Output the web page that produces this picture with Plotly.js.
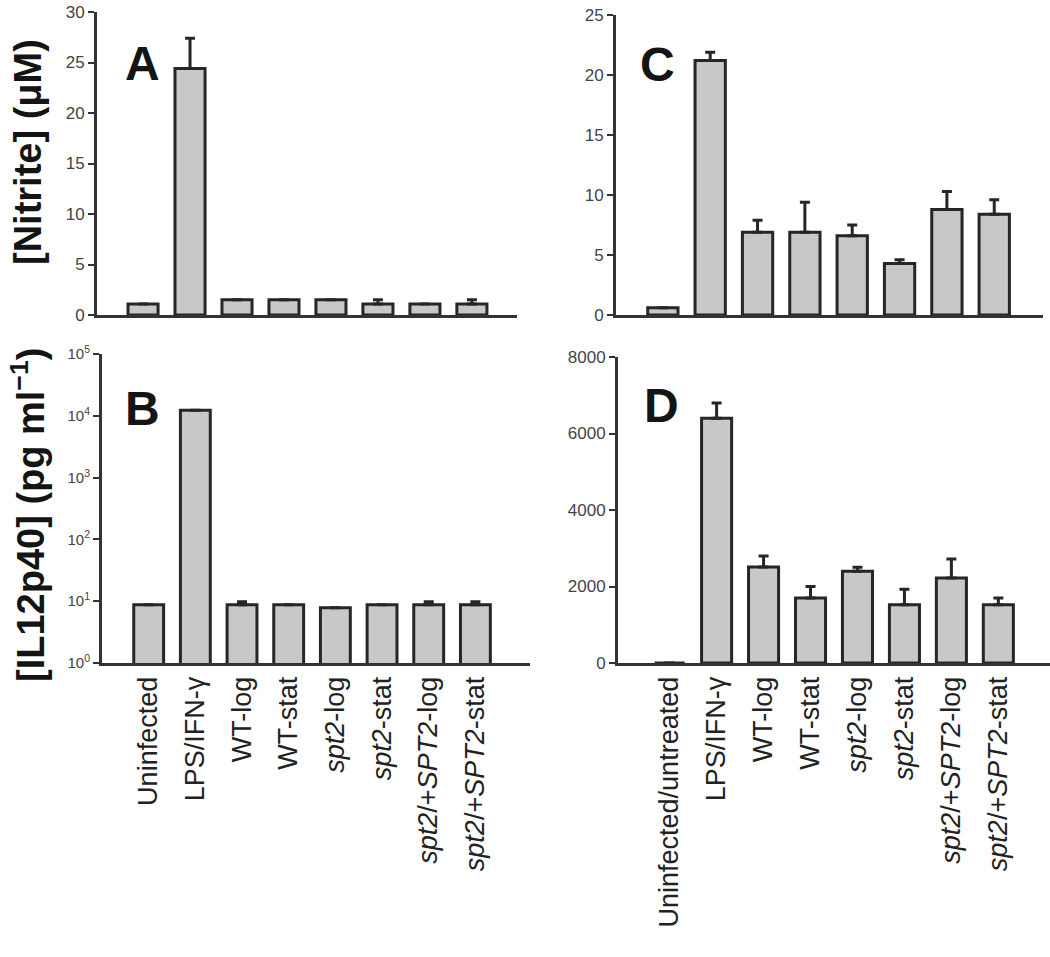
<!DOCTYPE html>
<html>
<head>
<meta charset="utf-8">
<script src="https://cdn.plot.ly/plotly-3.0.1.min.js"></script>
<style>html,body{margin:0;padding:0;background:#fff;}#chart{width:1050px;height:957px;}</style>
</head>
<body>
<div id="chart"></div>
<script>
// ---- Data ----
const categoriesAB = ["Uninfected", "LPS/IFN-γ", "WT-log", "WT-stat", "<i>spt2</i>-log", "<i>spt2</i>-stat", "<i>spt2</i>/+<i>SPT2</i>-log", "<i>spt2</i>/+<i>SPT2</i>-stat"];
const categoriesCD = ["Uninfected/untreated", "LPS/IFN-γ", "WT-log", "WT-stat", "<i>spt2</i>-log", "<i>spt2</i>-stat", "<i>spt2</i>/+<i>SPT2</i>-log", "<i>spt2</i>/+<i>SPT2</i>-stat"];

// Panel A: nitrite (µM)
const nitriteA = [1.1, 24.4, 1.5, 1.5, 1.5, 1.1, 1.1, 1.1];
const nitriteAErr = [0, 3.0, 0, 0, 0, 0.4, 0, 0.4];
// Panel B: IL12p40 (pg/ml), log scale
const il12B = [8.8, 12300, 8.8, 8.8, 7.8, 8.8, 8.8, 8.8];
const il12BErr = [0, 0, 1.0, 0, 0, 0, 1.0, 1.0];
// Panel C: nitrite (µM)
const nitriteC = [0.6, 21.2, 6.9, 6.9, 6.6, 4.3, 8.8, 8.4];
const nitriteCErr = [0, 0.7, 1.0, 2.5, 0.9, 0.3, 1.5, 1.2];
// Panel D: IL12p40 (pg/ml)
const il12D = [0, 6400, 2510, 1700, 2400, 1520, 2220, 1520];
const il12DErr = [0, 400, 290, 300, 100, 410, 500, 180];

const yTicksA = [0, 5, 10, 15, 20, 25, 30];
const yTicksC = [0, 5, 10, 15, 20, 25];
const yTicksD = [0, 2000, 4000, 6000, 8000];
const yTicksB = [1, 10, 100, 1000, 10000, 100000];
const yTickTextB = ["10<sup>0</sup>", "10<sup>1</sup>", "10<sup>2</sup>", "10<sup>3</sup>", "10<sup>4</sup>", "10<sup>5</sup>"];

// ---- Styling ----
const barFill = "#c8c8c8";
const barLine = "#262626";
const axisCol = "#333333";
const FONT = "Liberation Sans, Arial, sans-serif";

function barTrace(cats, vals, errs, xa, ya) {
  return {
    type: "bar", x: cats, y: vals, xaxis: xa, yaxis: ya,
    width: 0.64,
    marker: {color: barFill, line: {color: barLine, width: 3}},
    error_y: {type: "data", symmetric: false, array: errs, arrayminus: errs.map(() => 0),
              color: barLine, thickness: 3, width: 5},
    showlegend: false, hoverinfo: "x+y"
  };
}

const data = [
  barTrace(categoriesAB, nitriteA, nitriteAErr, "x", "y"),
  barTrace(categoriesAB, il12B, il12BErr, "x2", "y2"),
  barTrace(categoriesCD, nitriteC, nitriteCErr, "x3", "y3"),
  barTrace(categoriesCD, il12D, il12DErr, "x4", "y4")
];

function xAxis(domain, range, showLabels, anchor) {
  return {
    domain: domain, range: range, anchor: anchor, type: "category",
    showline: true, linecolor: axisCol, linewidth: 3,
    ticks: "", showgrid: false, zeroline: false,
    showticklabels: showLabels, tickangle: -90,
    tickfont: {family: FONT, size: 27, color: "#222"}
  };
}
function yAxis(domain, range, tickvals, anchor, extra) {
  return Object.assign({
    domain: domain, range: range, anchor: anchor,
    showline: true, linecolor: axisCol, linewidth: 3,
    ticks: "outside", ticklen: 6, tickwidth: 2, tickcolor: axisCol,
    tickvals: tickvals, showgrid: false, zeroline: false,
    tickfont: {family: FONT, size: 17, color: "#444"}
  }, extra || {});
}

const W = 1050, H = 957;
function label(txt, px, py, size, angle) {
  return {text: txt, x: px / W, y: 1 - py / H, xref: "paper", yref: "paper",
          xanchor: "center", yanchor: "middle", showarrow: false, textangle: angle || 0,
          font: {family: FONT, size: size, color: "#141414"}};
}

const layout = {
  width: W, height: H,
  margin: {l: 0, r: 0, t: 0, b: 0},
  paper_bgcolor: "#fff", plot_bgcolor: "rgba(0,0,0,0)",
  font: {family: FONT},
  xaxis:  xAxis([97 / W, 517 / W], [-0.98, 7.96], false, "y"),
  yaxis:  yAxis([1 - 315 / H, 1 - 12 / H], [0, 30], yTicksA, "x"),
  xaxis2: xAxis([102 / W, 530 / W], [-1.0, 8.17], true, "y2"),
  yaxis2: yAxis([1 - 663 / H, 1 - 354 / H], [0, 5], yTicksB, "x2",
                {type: "log", ticktext: yTickTextB, tickfont: {family: FONT, size: 15, color: "#444"}}),
  xaxis3: xAxis([616 / W, 1043 / W], [-0.99, 8.03], false, "y3"),
  yaxis3: yAxis([1 - 315 / H, 1 - 15 / H], [0, 25], yTicksC, "x3"),
  xaxis4: xAxis([618 / W, 1.0], [-1.1, 8.1], true, "y4"),
  yaxis4: yAxis([1 - 663 / H, 1 - 357 / H], [0, 8000], yTicksD, "x4"),
  annotations: [
    label("<b>A</b>", 142, 64, 48),
    label("<b>B</b>", 142, 408, 48),
    label("<b>C</b>", 657, 65, 48),
    label("<b>D</b>", 661, 405, 48),
    label("<b>[Nitrite] (μM)</b>", 28, 152, 38, -90),
    label("<b>[IL12p40] (pg ml<sup>−1</sup>)</b>", 28, 515, 38, -90)
  ]
};

Plotly.newPlot("chart", data, layout, {displayModeBar: false, staticPlot: true});
</script>
</body>
</html>
